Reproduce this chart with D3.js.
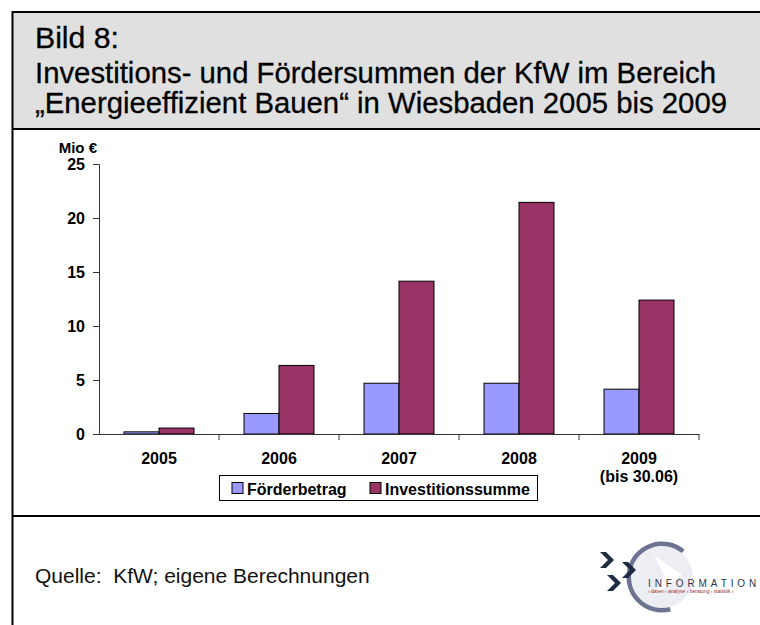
<!DOCTYPE html>
<html>
<head>
<meta charset="utf-8">
<script src="https://cdn.jsdelivr.net/npm/d3@7"></script>
<style>
  body { margin: 0; background: #fff; }
  svg { display: block; font-family: "Liberation Sans", Arial, sans-serif; }
</style>
</head>
<body>
<div class="chart"></div>
<script>
var years = ["2005", "2006", "2007", "2008", "2009"];
var yearSub = ["", "", "", "", "(bis 30.06)"];
var seriesNames = ["Förderbetrag", "Investitionssumme"];
var foerder = [0.2, 1.9, 4.7, 4.7, 4.15];
var invest = [0.55, 6.35, 14.15, 21.45, 12.4];
var yTicks = [0, 5, 10, 15, 20, 25];
var colors = ["#9999ff", "#993366"];

var width = 760, height = 625;
var plotLeft = 99, plotRight = 699, plotTop = 164, plotBottom = 434;

var svg = d3.select(".chart").append("svg")
  .attr("width", width)
  .attr("height", height);

// frame + title block
svg.append("rect").attr("x", 13).attr("y", 12).attr("width", 760).attr("height", 117)
  .attr("fill", "#e0e0e0");
svg.append("line").attr("x1", 12.5).attr("x2", 760).attr("y1", 12).attr("y2", 12)
  .attr("stroke", "#000").attr("stroke-width", 2);
svg.append("line").attr("x1", 12.5).attr("x2", 12.5).attr("y1", 11).attr("y2", 625)
  .attr("stroke", "#000").attr("stroke-width", 2);
svg.append("line").attr("x1", 12).attr("x2", 760).attr("y1", 129).attr("y2", 129)
  .attr("stroke", "#000").attr("stroke-width", 2);
svg.append("line").attr("x1", 12).attr("x2", 760).attr("y1", 516).attr("y2", 516)
  .attr("stroke", "#000").attr("stroke-width", 2);

var titleLines = [
  {text: "Bild 8:", y: 48, len: 84},
  {text: "Investitions- und Fördersummen der KfW im Bereich", y: 83, len: 681},
  {text: "„Energieeffizient Bauen“ in Wiesbaden 2005 bis 2009", y: 113, len: 692}
];
titleLines.forEach(function(l) {
  svg.append("text")
    .attr("x", 35).attr("y", l.y)
    .attr("font-size", 29)
    .attr("textLength", l.len)
    .attr("lengthAdjust", "spacingAndGlyphs")
    .attr("fill", "#000")
    .attr("stroke", "#000").attr("stroke-width", 0.3)
    .text(l.text);
});

// scales
var x0 = d3.scaleBand().domain(years).range([plotLeft, plotRight]).paddingInner(0).paddingOuter(0);
var x1 = d3.scaleBand().domain(seriesNames).range([0, 70]);
var groupOffset = (x0.bandwidth() - 70) / 2;
var y = d3.scaleLinear().domain([0, 25]).range([plotBottom, plotTop]);

// y axis
var yAxis = svg.append("g")
  .attr("transform", "translate(" + plotLeft + ",0)")
  .call(d3.axisLeft(y).tickValues(yTicks).tickSize(6).tickPadding(8).tickFormat(d3.format("d")));
yAxis.select(".domain").attr("stroke", "#333");
yAxis.selectAll(".tick line").attr("stroke", "#333");
yAxis.selectAll("text")
  .attr("font-size", 16).attr("font-weight", "bold").attr("fill", "#000")
  .attr("font-family", "Liberation Sans, Arial, sans-serif");

svg.append("text")
  .attr("x", 97).attr("y", 153)
  .attr("text-anchor", "end")
  .attr("font-size", 15).attr("font-weight", "bold")
  .text("Mio €");

// bars
var data = years.map(function(yr, i) {
  return {year: yr, values: [
    {name: seriesNames[0], value: foerder[i], color: colors[0]},
    {name: seriesNames[1], value: invest[i], color: colors[1]}
  ]};
});

var groups = svg.selectAll("g.year").data(data).enter().append("g")
  .attr("class", "year")
  .attr("transform", function(d) { return "translate(" + (x0(d.year) + groupOffset) + ",0)"; });
groups.selectAll("rect").data(function(d) { return d.values; }).enter().append("rect")
  .attr("x", function(d) { return x1(d.name); })
  .attr("y", function(d) { return y(d.value); })
  .attr("width", x1.bandwidth())
  .attr("height", function(d) { return y(0) - y(d.value); })
  .attr("fill", function(d) { return d.color; })
  .attr("stroke", "#000")
  .attr("stroke-width", 1);

// x axis
var xAxis = svg.append("g")
  .attr("transform", "translate(0," + plotBottom + ")")
  .call(d3.axisBottom(x0).tickSize(0).tickFormat(""));
xAxis.select(".domain").attr("stroke", "#333");
var bounds = years.map(function(yr) { return x0(yr); }).concat([plotRight]);
svg.selectAll("line.xtick").data(bounds.slice(1)).enter().append("line")
  .attr("class", "xtick")
  .attr("x1", function(d) { return d; }).attr("x2", function(d) { return d; })
  .attr("y1", plotBottom).attr("y2", plotBottom + 6)
  .attr("stroke", "#333");

svg.selectAll("text.xlab").data(years).enter().append("text")
  .attr("class", "xlab")
  .attr("x", function(d) { return x0(d) + x0.bandwidth() / 2; })
  .attr("y", 464)
  .attr("text-anchor", "middle")
  .attr("font-size", 16).attr("font-weight", "bold")
  .text(function(d) { return d; });
svg.selectAll("text.xsub").data(years).enter().append("text")
  .attr("class", "xsub")
  .attr("x", function(d) { return x0(d) + x0.bandwidth() / 2; })
  .attr("y", 482)
  .attr("text-anchor", "middle")
  .attr("font-size", 16).attr("font-weight", "bold")
  .text(function(d, i) { return yearSub[i]; });

// legend
svg.append("rect").attr("x", 219.5).attr("y", 475.5).attr("width", 318).attr("height", 25)
  .attr("fill", "#fff").attr("stroke", "#000");
var legX = [232, 370];
var leg = svg.selectAll("g.leg").data(seriesNames).enter().append("g")
  .attr("class", "leg")
  .attr("transform", function(d, i) { return "translate(" + legX[i] + ",482.5)"; });
leg.append("rect").attr("width", 11).attr("height", 11)
  .attr("fill", function(d, i) { return colors[i]; })
  .attr("stroke", "#000");
leg.append("text").attr("x", 15).attr("y", 12)
  .attr("font-size", 16).attr("font-weight", "bold")
  .text(function(d) { return d; });

// source
svg.append("text").attr("x", 35).attr("y", 583)
  .attr("font-size", 21).attr("fill", "#111")
  .style("white-space", "pre")
  .text("Quelle:  KfW; eigene Berechnungen");

// logo
var logo = svg.append("g").attr("transform", "translate(662,577)");
logo.append("circle").attr("r", 31).attr("fill", "#eceef3");
logo.append("path").attr("d", "M-8,-22 L20,-2 L-8,18 L2,-2 Z").attr("fill", "#fff");
logo.append("path")
  .attr("d", d3.arc()({innerRadius: 31, outerRadius: 35.5, startAngle: Math.PI * 0.92, endAngle: Math.PI * 2.22}))
  .attr("fill", "#6e7391");
[[-62, -25], [-40, -15], [-55, -2]].forEach(function(p) {
  logo.append("path")
    .attr("d", "M" + p[0] + "," + p[1] + " l6,0 l8,8 l-8,8 l-6,0 l8,-8 Z")
    .attr("fill", "#1f2c45");
});
logo.append("text").attr("x", -14).attr("y", 10)
  .attr("font-size", 10).attr("fill", "#2b3550")
  .attr("letter-spacing", 3.9)
  .text("INFORMATION");
logo.append("text").attr("x", -14).attr("y", 16)
  .attr("font-size", 5).attr("fill", "#9b2a3a")
  .text("› daten › analyse › beratung › statistik ›");
</script>
</body>
</html>
